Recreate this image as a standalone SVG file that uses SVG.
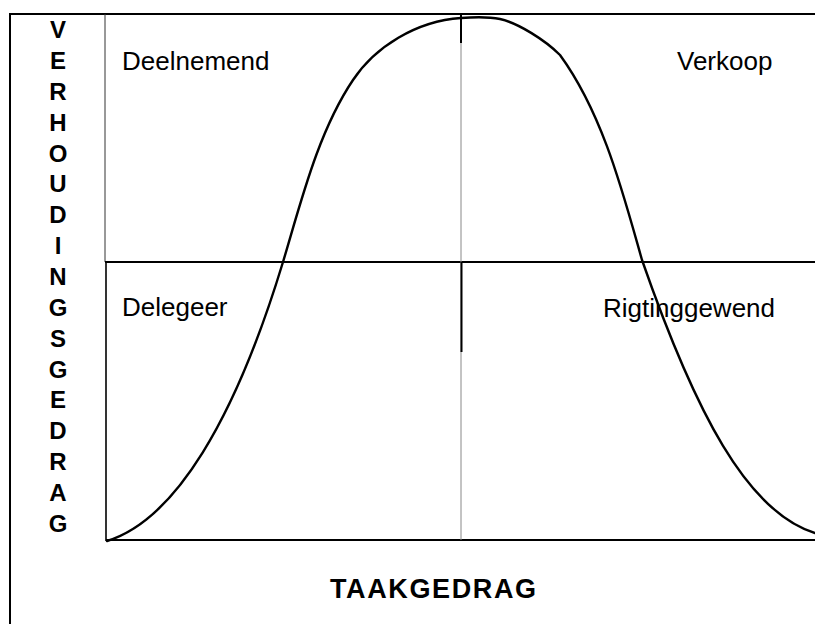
<svg xmlns="http://www.w3.org/2000/svg" width="815" height="624" viewBox="0 0 815 624">
<style>
.frame{stroke:#000;stroke-width:2;fill:none}
.thin{stroke:#888;stroke-width:1;fill:none}
.axis{stroke:#000;stroke-width:2;fill:none}
.curve{stroke:#000;stroke-width:2.4;fill:none;stroke-linecap:round;stroke-linejoin:round}
.lbl{font-family:"Liberation Sans",Arial,sans-serif;font-size:26px;fill:#000}
.vl{font-family:"Liberation Sans",Arial,sans-serif;font-size:24px;font-weight:bold;fill:#000;text-anchor:middle}
.xl{font-family:"Liberation Sans",Arial,sans-serif;font-size:27px;font-weight:bold;fill:#000}
</style>
<rect width="815" height="624" fill="#fff"/>
<g id="connectors">
<path class="frame" d="M10,624 V14 H815"/>
<path class="thin" d="M105,14 V262" style="stroke:#333"/>
<path class="axis" d="M106,262 V541" style="stroke-width:1.6"/>
<path class="axis" d="M105,262 H815"/>
<path class="axis" d="M106,540 H815"/>
<path class="thin" d="M461,14 V540"/>
<path class="axis" d="M461,14 V43"/>
<path class="axis" d="M461.5,262 V352"/>
</g>
<g id="curve">
<path class="curve" d="M107,541 C175,520 235,420 283,262 C301,202 318,132 353,80 C375,47 416,21 461,18 C475,17 490,17 500,19 C518,23 545,40 560,55 C603,114 623,193 642,260 C695,412 747,512 815,533"/>
</g>
<g id="quadrant-deelnemend"><text class="lbl" x="122" y="70">Deelnemend</text></g>
<g id="quadrant-verkoop"><text class="lbl" x="677" y="70">Verkoop</text></g>
<g id="quadrant-delegeer"><text class="lbl" x="122" y="316">Delegeer</text></g>
<g id="quadrant-rigtinggewend"><text class="lbl" x="603" y="317">Rigtinggewend</text></g>
<g id="y-axis-label">
<text class="vl" x="58" y="38">V</text>
<text class="vl" x="58" y="69">E</text>
<text class="vl" x="58" y="100">R</text>
<text class="vl" x="58" y="131">H</text>
<text class="vl" x="58" y="162">O</text>
<text class="vl" x="58" y="192">U</text>
<text class="vl" x="58" y="223">D</text>
<text class="vl" x="58" y="254">I</text>
<text class="vl" x="58" y="285">N</text>
<text class="vl" x="58" y="316">G</text>
<text class="vl" x="58" y="347">S</text>
<text class="vl" x="58" y="378">G</text>
<text class="vl" x="58" y="408">E</text>
<text class="vl" x="58" y="439">D</text>
<text class="vl" x="58" y="470">R</text>
<text class="vl" x="58" y="501">A</text>
<text class="vl" x="58" y="532">G</text>
</g>
<g id="x-axis-label"><text class="xl" x="330" y="598" textLength="206" lengthAdjust="spacing">TAAKGEDRAG</text></g>
</svg>
